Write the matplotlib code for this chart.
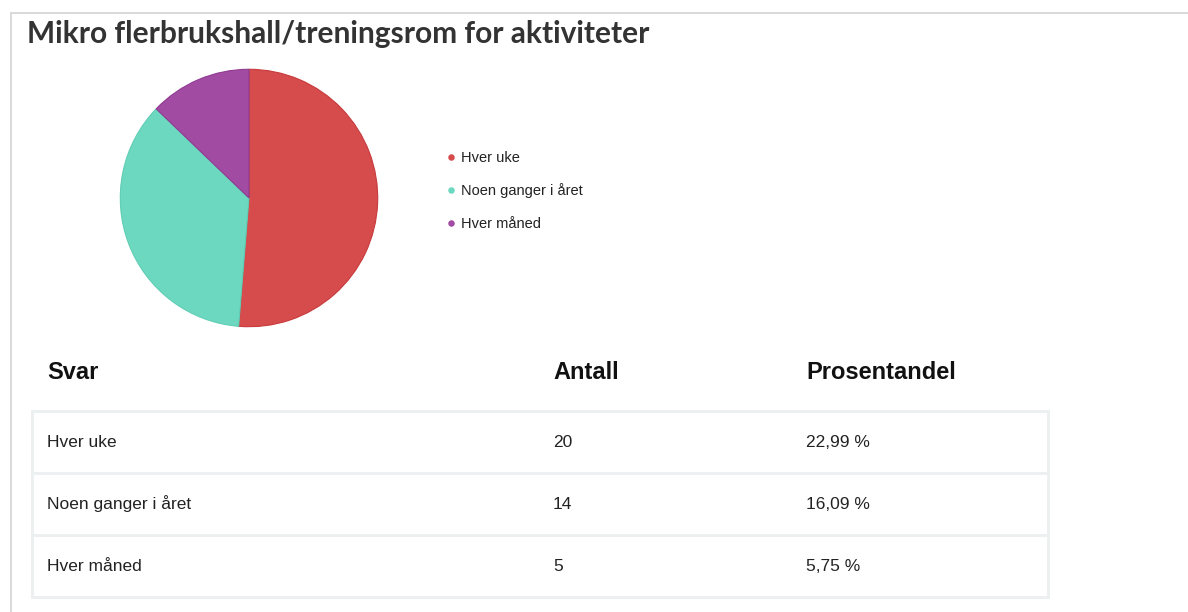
import matplotlib
matplotlib.use("Agg")
import matplotlib.pyplot as plt
from matplotlib.patches import Rectangle
from matplotlib.lines import Line2D

# ---- data ----
title = "Mikro flerbrukshall/treningsrom for aktiviteter"
categories = ["Hver uke", "Noen ganger i året", "Hver måned"]
counts = [20, 14, 5]
percent_labels = ["22,99 %", "16,09 %", "5,75 %"]
headers = ["Svar", "Antall", "Prosentandel"]

colors = ["#d64b4c", "#6cd8c0", "#a24ba3"]
edge_colors = ["#c83a3b", "#5fcdb4", "#8f3a92"]

W, H = 1188, 612
DPI = 100
fig = plt.figure(figsize=(W / DPI, H / DPI), dpi=DPI)
fig.patch.set_facecolor("white")

# background axes in pixel coordinates
bg = fig.add_axes([0, 0, 1, 1])
bg.set_xlim(0, W)
bg.set_ylim(H, 0)
bg.axis("off")

px = 72.0 / DPI  # points per pixel

# page border
bg.add_line(Line2D([11, W], [13, 13], color="#dadada", lw=2 * px))
bg.add_line(Line2D([11, 11], [13, H], color="#dadada", lw=2 * px))

# title, fitted to measured width
t = bg.text(27, 43, title, fontsize=20, fontweight="bold", family=["Lato", "DejaVu Sans"],
            color="#333333", ha="left", va="baseline")
fig.canvas.draw()
w = t.get_window_extent().width
t.set_fontsize(20 * 621.0 / w)

# pie
cx, cy, r = 249, 198, 130
pie_ax = fig.add_axes([(cx - r) / W, (H - cy - r) / H, 2 * r / W, 2 * r / H])
wedges, _ = pie_ax.pie(counts, colors=colors, startangle=90, counterclock=False,
                       radius=1.0, wedgeprops=dict(linewidth=0.8))
for wdg, ec in zip(wedges, edge_colors):
    wdg.set_edgecolor(ec)
pie_ax.set_xlim(-1.01, 1.01)
pie_ax.set_ylim(-1.01, 1.01)
pie_ax.set_aspect("equal")
pie_ax.axis("off")

# legend
leg_y0, leg_dy = 157, 33
for i, (cat, col) in enumerate(zip(categories, colors)):
    y = leg_y0 + i * leg_dy
    bg.plot([451], [y], marker="o", markersize=6.5 * px, color=col, markeredgewidth=0)
    bg.text(461, y + 5, cat, fontsize=10.5, family="Liberation Sans", color="#222222",
            ha="left", va="baseline")

# table headers
col_x = [47, 553, 806]
for x, h in zip(col_x, headers):
    bg.text(x, 379, h, fontsize=17, fontweight="bold", family="Liberation Sans",
            color="#111111", ha="left", va="baseline")

# table grid
tbl_left, tbl_right = 32, 1048
row_edges = [411, 473, 535, 597]
border_col = "#edf0f0"
bg.add_patch(Rectangle((tbl_left, row_edges[0]), tbl_right - tbl_left,
                       row_edges[-1] - row_edges[0], fill=False,
                       edgecolor=border_col, lw=3 * px))
for ye in row_edges[1:-1]:
    bg.add_line(Line2D([tbl_left, tbl_right], [ye, ye], color=border_col, lw=3 * px))

# table rows
baselines = [447, 509, 571]
for i in range(len(categories)):
    vals = [categories[i], str(counts[i]), percent_labels[i]]
    for x, v in zip(col_x, vals):
        bg.text(x, baselines[i], v, fontsize=12.5, family="Liberation Sans",
                color="#222222", ha="left", va="baseline")

fig.savefig("out.png", dpi=DPI, facecolor="white")
